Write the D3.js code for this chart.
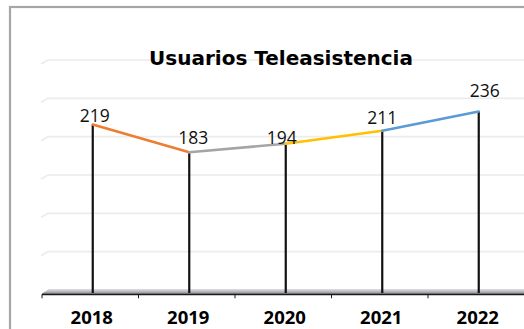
<!DOCTYPE html>
<html>
<head>
<meta charset="utf-8">
<script src="https://cdn.jsdelivr.net/npm/d3@7/dist/d3.min.js"></script>
<style>
  html, body { margin: 0; padding: 0; background: #ffffff; }
  svg { display: block; }
</style>
</head>
<body>
<script>
// Yearly number of tele-assistance users
const years = ["2018", "2019", "2020", "2021", "2022"];
const users = [219, 183, 194, 211, 236];
const gridValues = [50, 100, 150, 200, 250, 300];
const segmentColors = ["#ED7D31", "#A5A5A5", "#FFC000", "#5B9BD5"];
const titleText = "Usuarios Teleasistencia";

// Per-label nudges so the value labels sit clear of the line
const labelNudge = [[2, -3], [4, -8], [-4, 0], [0, -7], [6, -15]];

const W = 524, H = 329;
const FONT = "'Open Sans', 'Noto Sans', sans-serif";
const TITLE_FONT = "'DejaVu Sans', 'Open Sans', sans-serif";

const svg = d3.select("body").append("svg")
  .attr("width", W).attr("height", H);

// Outer chart frame
svg.append("rect")
  .attr("x", 10).attr("y", 7)
  .attr("width", 540).attr("height", 360)
  .attr("fill", "#fff")
  .attr("stroke", "#a6a6a6").attr("stroke-width", 2.2);

// Scales: back wall for the grid, the series sits slightly forward
const x = d3.scaleBand().domain(years).range([42, 524.5]).padding(0);
const y = d3.scaleLinear().domain([0, 300]).range([290, 60]);
const depth = 7;              // horizontal depth of the 3D floor
const seriesShift = { dx: 2.5, dy: 2.5 };

const px = d => x(d) + x.bandwidth() / 2 + seriesShift.dx;
const py = v => y(v) + seriesShift.dy;

// Gridlines with a short slanted side toward the front
const grid = svg.append("g");
gridValues.forEach(v => {
  const gy = y(v);
  grid.append("path")
    .attr("d", `M${41},${gy + 4} L${48},${gy} L${W + 10},${gy}`)
    .attr("fill", "none")
    .attr("stroke", "#ececec")
    .attr("stroke-width", 1.7);
});

// Floor slab
const defs = svg.append("defs");
const grad = defs.append("linearGradient")
  .attr("id", "floorGrad").attr("x1", 0).attr("y1", 0).attr("x2", 0).attr("y2", 1);
grad.append("stop").attr("offset", "0%").attr("stop-color", "#e2e2e4");
grad.append("stop").attr("offset", "60%").attr("stop-color", "#b4b6ba");
grad.append("stop").attr("offset", "100%").attr("stop-color", "#8c8e92");
const floorBack = y(0) - 1, floorFront = y(0) + 3.5;
svg.append("path")
  .attr("d", `M${42},${floorFront} L${42 + depth},${floorBack} L${W + 10},${floorBack} L${W + 10},${floorFront} Z`)
  .attr("fill", "url(#floorGrad)");

// Category axis along the front edge of the floor
const axisY = floorFront + 0.8;
const axis = svg.append("g").attr("transform", `translate(0,${axisY})`);
axis.append("line")
  .attr("x1", 42).attr("x2", W + 10)
  .attr("stroke", "#1a1a1a").attr("stroke-width", 1.8);
years.forEach(yr => {
  axis.append("line")
    .attr("x1", x(yr)).attr("x2", x(yr))
    .attr("y1", 0).attr("y2", 4)
    .attr("stroke", "#1a1a1a").attr("stroke-width", 1);
});
axis.selectAll("text.year").data(years).join("text")
  .attr("class", "year")
  .attr("x", d => x(d) + x.bandwidth() / 2 + 1.5)
  .attr("y", 324 - axisY)
  .attr("text-anchor", "middle")
  .attr("font-family", FONT)
  .attr("font-weight", 700)
  .attr("font-size", 18.5)
  .attr("fill", "#000")
  .text(d => d);

// Drop lines from each point to the floor
svg.append("g").selectAll("line").data(years).join("line")
  .attr("x1", (d) => px(d)).attr("x2", (d) => px(d))
  .attr("y1", (d, i) => py(users[i]))
  .attr("y2", floorFront - 0.5)
  .attr("stroke", "#111").attr("stroke-width", 2.2);

// Coloured line segments between consecutive years
const segs = d3.pairs(years.map((d, i) => [px(d), py(users[i])]));
svg.append("g").selectAll("line").data(segs).join("line")
  .attr("x1", d => d[0][0]).attr("y1", d => d[0][1])
  .attr("x2", d => d[1][0]).attr("y2", d => d[1][1])
  .attr("stroke", (d, i) => segmentColors[i])
  .attr("stroke-width", 2.6)
  .attr("stroke-linecap", "round");

// Value labels
svg.append("g").selectAll("text").data(users).join("text")
  .attr("x", (d, i) => px(years[i]) + labelNudge[i][0])
  .attr("y", (d, i) => py(d) + labelNudge[i][1])
  .attr("text-anchor", "middle")
  .attr("font-family", FONT)
  .attr("font-size", 17.5)
  .attr("fill", "#111")
  .text(d => d);

// Title
svg.append("text")
  .attr("x", 281).attr("y", 65)
  .attr("text-anchor", "middle")
  .attr("font-family", TITLE_FONT)
  .attr("font-weight", 700)
  .attr("font-size", 20)
  .attr("fill", "#000")
  .text(titleText);
</script>
</body>
</html>
